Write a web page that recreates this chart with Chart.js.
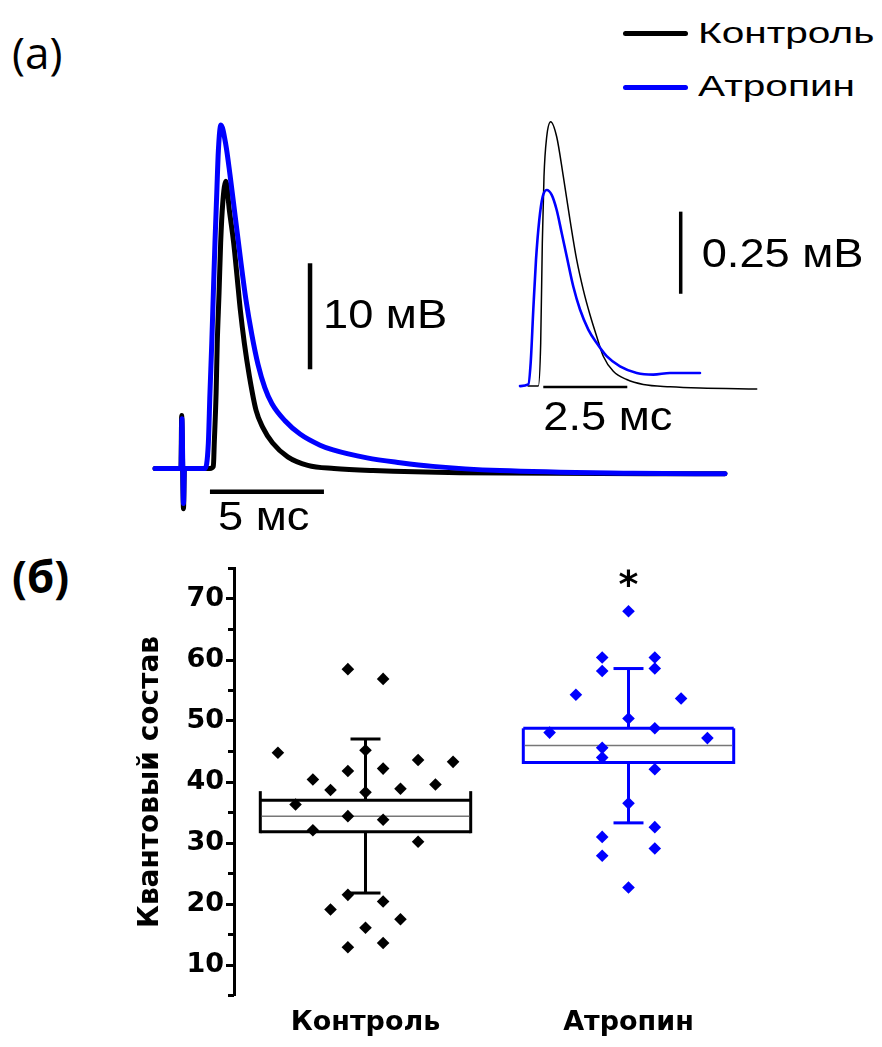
<!DOCTYPE html>
<html>
<head>
<meta charset="utf-8">
<script src="https://cdn.jsdelivr.net/npm/chart.js@4.4.1/dist/chart.umd.min.js"></script>
<style>
  html, body { margin: 0; padding: 0; background: #fff; }
  #page { position: relative; width: 882px; height: 1047px; overflow: hidden; }
  canvas { position: absolute; }
  .lbl { position: absolute; white-space: nowrap; color: #000; line-height: 1; }
  .panel { font-family: "Open Sans", sans-serif; font-size: 44px; left: 12px; }
  .key { font-family: "Liberation Sans", sans-serif; font-size: 29px; left: 698px;
         transform: scaleX(1.4); transform-origin: left center; }
  .swatch { position: absolute; left: 623px; width: 65px; height: 5px; border-radius: 2.5px; }
</style>
</head>
<body>
<div id="page">
  <div class="lbl panel" style="top:30px">(a)</div>
  <div class="lbl panel" style="top:554px;font-weight:bold">(б)</div>

  <div class="swatch" style="top:31px;background:#000"></div>
  <div class="lbl key" style="top:19px">Контроль</div>
  <div class="swatch" style="top:85px;background:#0000ff"></div>
  <div class="lbl key" style="top:72px">Атропин</div>

  <canvas id="traces" width="600" height="440" style="left:150px;top:110px;width:600px;height:440px"></canvas>
  <canvas id="inset" width="372" height="330" style="left:510px;top:110px;width:372px;height:330px"></canvas>
  <canvas id="box" width="882" height="507" style="left:0;top:540px;width:882px;height:507px"></canvas>
</div>

<script>
// (a) averaged EPP traces, ms / mV
var mainTimeCtrl = [0, 1.14, 1.17, 1.25, 1.29, 2.41, 2.56, 2.60, 2.68, 2.73, 2.81, 2.88, 2.97, 3.11, 3.26,
                    3.45, 3.60, 3.74, 3.92, 4.14, 4.43, 4.72, 5.16, 5.82, 6.70, 7.85, 9.56, 13.38, 25.0];
var mainCtrl     = [0, 0, 5.0, -3.8, 0, 0, 0.2, 2.4, 7.1, 11.8, 16.6, 21.3, 25.0, 27.1, 24.4,
                    21.3, 18.1, 15.0, 11.8, 8.7, 5.5, 3.9, 2.4, 1.1, 0.3, 0.0, -0.2, -0.4, -0.5];
var mainTimeAtr  = [0, 1.14, 1.18, 1.25, 1.29, 2.19, 2.34, 2.41, 2.49, 2.56, 2.63, 2.71, 2.78, 2.89, 3.11,
                    3.29, 3.51, 3.73, 3.99, 4.25, 4.52, 4.82, 5.13, 5.70, 6.36, 7.24, 7.81, 9.30, 10.75,
                    12.19, 15.13, 20.96, 25.0];
var mainAtr      = [0, 0, 4.7, -3.3, 0, 0, 2.4, 7.1, 11.8, 16.6, 21.3, 26.0, 30.0, 32.4, 30.5,
                    27.7, 23.9, 20.1, 15.9, 12.6, 9.8, 7.6, 6.1, 4.5, 3.25, 2.2, 1.75, 1.0, 0.55,
                    0.2, -0.2, -0.45, -0.5];
// scale bars of the main traces
var mainBarTime  = [2.41, 7.41];   // 5 ms
var mainBarLevel = -2.19;
var mainBarVolt  = [9.36, 19.36];  // 10 mV
var mainBarAt    = 6.80;

// (a) inset, ms / mV
var insetTimeCtrl = [0.24, 0.545, 0.616, 0.664, 0.714, 0.795, 0.914, 1.092, 1.289, 1.488, 1.688,
                     1.884, 2.083, 2.283, 2.479, 2.777, 3.176, 3.670, 4.464, 5.357, 7.045];
var insetCtrl     = [0, 0, 0.131, 0.435, 0.638, 0.759, 0.805, 0.759, 0.638, 0.506, 0.384,
                     0.293, 0.217, 0.151, 0.091, 0.045, 0.020, 0.005, -0.002, -0.006, -0.009];
var insetTimeAtr  = [0, 0.247, 0.318, 0.396, 0.476, 0.574, 0.676, 0.795, 0.943, 1.092, 1.241,
                     1.390, 1.586, 1.786, 2.033, 2.283, 2.580, 2.976, 3.473, 3.967, 4.464, 5.357];
var insetAtr      = [0, 0.005, 0.071, 0.233, 0.384, 0.506, 0.577, 0.597, 0.582, 0.536, 0.466,
                     0.395, 0.303, 0.233, 0.172, 0.131, 0.091, 0.060, 0.040, 0.035, 0.040, 0.040];
var insetBarTime  = [0.693, 3.193]; // 2.5 ms
var insetBarLevel = -0.0024;
var insetBarVolt  = [0.281, 0.531]; // 0.25 mV
var insetBarAt    = 4.783;

// (b) quantal content
var groupNames  = ['Контроль', 'Атропин'];
var ctrlX       = [0.667, 0.734, 0.800, 0.800, 0.867, 0.867, 0.933, 0.933, 0.933, 0.933, 0.933,
                   1.000, 1.000, 1.000, 1.067, 1.067, 1.067, 1.067, 1.067, 1.133, 1.133,
                   1.200, 1.200, 1.266, 1.333];
var ctrlValues  = [44.8, 36.3, 40.4, 32.1, 38.7, 19.1, 58.5, 41.8, 34.4, 21.5, 12.9,
                   45.2, 38.3, 16.1, 56.9, 42.2, 33.8, 20.4, 13.6, 38.9, 17.5,
                   43.6, 30.2, 39.6, 43.3];
var atrX        = [1.70, 1.80, 1.90, 1.90, 1.90, 1.90, 1.90, 1.90, 2.00, 2.00, 2.00, 2.00,
                   2.10, 2.10, 2.10, 2.10, 2.10, 2.10, 2.20, 2.30];
var atrValues   = [48.1, 54.3, 60.4, 58.2, 45.6, 44.0, 31.0, 27.9, 68.0, 50.4, 36.5, 22.7,
                   60.4, 58.6, 48.8, 42.1, 32.6, 29.1, 53.7, 47.2];
var boxLow      = [31.85, 43.2];
var boxHigh     = [37.0, 48.8];
var boxSideTop  = [38.5, 48.8];
var boxMid      = [34.4, 46.0];
var whiskerLow  = [21.8, 33.3];
var whiskerHigh = [47.05, 58.6];

var BLUE = '#0000ff';
var groupColors = ['#000000', BLUE];

function pts(xs, ys) {
	return xs.map(function (v, i) { return { x: v, y: ys[i] }; });
}
function flat(xs, level) {
	return xs.map(function (v) { return { x: v, y: level }; });
}
function upright(at, ys) {
	return ys.map(function (v) { return { x: at, y: v }; });
}

// scale-bar captions, placed next to the bars through the chart scales
var barText = {
	id: 'barText',
	afterDatasetsDraw: function (chart, args, opts) {
		var ctx = chart.ctx, sx = chart.scales.x, sy = chart.scales.y;
		ctx.save();
		ctx.fillStyle = '#000';
		ctx.font = '40px "Liberation Sans"';
		ctx.textBaseline = 'alphabetic';
		opts.items.forEach(function (it) {
			ctx.save();
			ctx.translate(sx.getPixelForValue(it.t) + it.dx, sy.getPixelForValue(it.v) + it.dy);
			ctx.scale(1.13, 1);
			ctx.fillText(it.text, 0, 0);
			ctx.restore();
		});
		ctx.restore();
	}
};

function traceSet(label, data, color, width) {
	return {
		label: label, data: data, borderColor: color, borderWidth: width,
		pointRadius: 0, cubicInterpolationMode: 'monotone', borderCapStyle: 'round', borderJoinStyle: 'round'
	};
}
function barSet(label, data, width) {
	return { label: label, data: data, borderColor: '#000', borderWidth: width, pointRadius: 0 };
}
function hiddenAxes(xmin, xmax, ymin, ymax) {
	return {
		x: { type: 'linear', display: false, min: xmin, max: xmax },
		y: { type: 'linear', display: false, min: ymin, max: ymax }
	};
}

new Chart(document.getElementById('traces'), {
	type: 'line',
	data: {
		datasets: [
			traceSet('Атропин', pts(mainTimeAtr, mainAtr), BLUE, 5),
			traceSet('Контроль', pts(mainTimeCtrl, mainCtrl), '#000', 5),
			barSet('5 мс', flat(mainBarTime, mainBarLevel), 4.5),
			barSet('10 мВ', upright(mainBarAt, mainBarVolt), 4.5)
		]
	},
	options: {
		responsive: false, animation: false, devicePixelRatio: 1,
		layout: { padding: 0 },
		plugins: {
			legend: { display: false }, tooltip: { enabled: false },
			barText: { items: [
				{ text: '10 мВ', t: mainBarAt, v: (mainBarVolt[0] + mainBarVolt[1]) / 2, dx: 13, dy: 11.5 },
				{ text: '5 мс', t: mainBarTime[0], v: mainBarLevel, dx: 8, dy: 38 }
			] }
		},
		scales: hiddenAxes(-0.219, 26.096, -7.69, 33.82)
	},
	plugins: [barText]
});

new Chart(document.getElementById('inset'), {
	type: 'line',
	data: {
		datasets: [
			traceSet('Атропин', pts(insetTimeAtr, insetAtr), BLUE, 2.6),
			traceSet('Контроль', pts(insetTimeCtrl, insetCtrl), '#000', 1.5),
			barSet('2.5 мс', flat(insetBarTime, insetBarLevel), 2.5),
			barSet('0.25 мВ', upright(insetBarAt, insetBarVolt), 3.5)
		]
	},
	options: {
		responsive: false, animation: false, devicePixelRatio: 1,
		layout: { padding: 0 },
		plugins: {
			legend: { display: false }, tooltip: { enabled: false },
			barText: { items: [
				{ text: '0.25 мВ', t: insetBarAt, v: (insetBarVolt[0] + insetBarVolt[1]) / 2, dx: 21, dy: 14 },
				{ text: '2.5 мс', t: insetBarTime[0], v: insetBarLevel, dx: 0, dy: 42.7 }
			] }
		},
		scales: hiddenAxes(-0.2976, 10.774, -0.1641, 0.8404)
	},
	plugins: [barText]
});

// boxes, whiskers, minor ticks and the significance mark
var BOX_HALF = 0.4, CAP_HALF = 0.057;
var boxPlot = {
	id: 'boxPlot',
	beforeDatasetsDraw: function (chart) {
		var ctx = chart.ctx, sx = chart.scales.x, sy = chart.scales.y;
		function seg(x1, y1, x2, y2) {
			ctx.beginPath(); ctx.moveTo(x1, y1); ctx.lineTo(x2, y2); ctx.stroke();
		}
		ctx.save();
		groupNames.forEach(function (name, i) {
			var xc = sx.getPixelForValue(i + 1),
			xl = sx.getPixelForValue(i + 1 - BOX_HALF),
			xr = sx.getPixelForValue(i + 1 + BOX_HALF),
			cl = sx.getPixelForValue(i + 1 - CAP_HALF),
			cr = sx.getPixelForValue(i + 1 + CAP_HALF),
			yLo = sy.getPixelForValue(boxLow[i]),
			yHi = sy.getPixelForValue(boxHigh[i]),
			ySide = sy.getPixelForValue(boxSideTop[i]),
			yMid = sy.getPixelForValue(boxMid[i]),
			wLo = sy.getPixelForValue(whiskerLow[i]),
			wHi = sy.getPixelForValue(whiskerHigh[i]);

			ctx.strokeStyle = groupColors[i];
			ctx.lineWidth = 3;
			seg(xl, yLo + 1.5, xl, ySide);
			seg(xr, yLo + 1.5, xr, ySide);
			seg(xl, yLo, xr, yLo);
			seg(xl, yHi, xr, yHi);
			seg(xc, yHi, xc, wHi);
			seg(xc, yLo, xc, wLo);
			seg(cl, wHi, cr, wHi);
			seg(cl, wLo, cr, wLo);

			ctx.strokeStyle = '#777';
			ctx.lineWidth = 1.5;
			seg(xl + 1.5, yMid, xr - 1.5, yMid);
		});
		ctx.restore();
	},
	afterDraw: function (chart) {
		var ctx = chart.ctx, sx = chart.scales.x, sy = chart.scales.y;
		var left = chart.chartArea.left;
		ctx.save();
		ctx.strokeStyle = '#000';
		ctx.lineWidth = 3;
		for (var v = 5; v <= 75; v += 10) {
			var py = sy.getPixelForValue(v);
			ctx.beginPath(); ctx.moveTo(left - 6, py); ctx.lineTo(left, py); ctx.stroke();
		}
		// significance mark over the atropine group
		ctx.fillStyle = '#000';
		ctx.font = 'bold 38px "DejaVu Sans"';
		ctx.textAlign = 'center';
		ctx.textBaseline = 'alphabetic';
		ctx.fillText('*', sx.getPixelForValue(2), sy.getPixelForValue(Math.max.apply(null, atrValues)) - 14);
		ctx.restore();
	}
};

var tickFont = { family: 'DejaVu Sans', weight: 'bold', size: 27 };

new Chart(document.getElementById('box'), {
	type: 'scatter',
	data: {
		datasets: [
			{ label: groupNames[0], data: pts(ctrlX, ctrlValues), backgroundColor: '#000', borderColor: '#000',
			  pointStyle: 'rectRot', pointRadius: 6.3, borderWidth: 0 },
			{ label: groupNames[1], data: pts(atrX, atrValues), backgroundColor: BLUE, borderColor: BLUE,
			  pointStyle: 'rectRot', pointRadius: 6.3, borderWidth: 0 }
		]
	},
	options: {
		responsive: false, animation: false, devicePixelRatio: 1,
		layout: { padding: { left: 0, top: 28.5, right: 122, bottom: 0 } },
		plugins: { legend: { display: false }, tooltip: { enabled: false } },
		scales: {
			x: {
				type: 'linear', min: 0.5, max: 2.5,
				grid: { display: false, drawTicks: false },
				border: { display: false },
				afterBuildTicks: function (scale) {
					scale.ticks = groupNames.map(function (n, i) { return { value: i + 1 }; });
				},
				ticks: {
					autoSkip: false, maxRotation: 0, padding: 11, color: '#000',
					font: { family: 'DejaVu Sans', weight: 'bold', size: 27 },
					callback: function (value) { return groupNames[value - 1]; }
				},
				afterFit: function (scale) { scale.height = 51.5; }
			},
			y: {
				type: 'linear', min: 5, max: 75,
				ticks: {
					stepSize: 5, padding: 2, color: '#000', font: tickFont, autoSkip: false,
					callback: function (value) { return value % 10 === 0 ? value : ''; }
				},
				grid: {
					drawOnChartArea: false, tickLength: 8, tickWidth: 3,
					tickColor: function (c) {
						return c.tick && c.tick.value % 10 === 0 ? '#000' : 'rgba(0,0,0,0)';
					}
				},
				border: { display: true, width: 3, color: '#000' },
				title: {
					display: true, text: 'Квантовый состав', color: '#000',
					font: { family: 'DejaVu Sans', weight: 'bold', size: 28 },
					padding: { top: 134, bottom: 0 }
				},
				afterFit: function (scale) { scale.width = 234; }
			}
		}
	},
	plugins: [boxPlot]
});
</script>
</body>
</html>
